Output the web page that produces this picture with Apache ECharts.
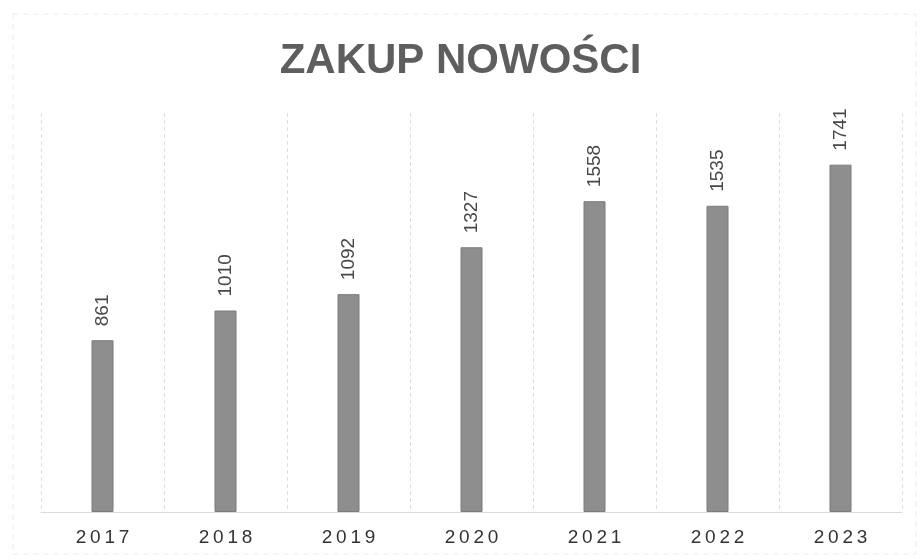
<!DOCTYPE html>
<html><head><meta charset="utf-8">
<script src="https://cdn.jsdelivr.net/npm/echarts@6/dist/echarts.min.js"></script>
<style>html,body{margin:0;padding:0;background:#fff}#c{width:921px;height:560px}</style>
</head><body><div id="c"></div>
<script>
const categories = ['2017','2018','2019','2020','2021','2022','2023'];
const values = [861, 1010, 1092, 1327, 1558, 1535, 1741];
const titleText = 'ZAKUP NOWOŚCI';

const chart = echarts.init(document.getElementById('c'));
chart.setOption({
  animation: false,
  backgroundColor: '#fff',
  title: {
    text: titleText, left: 'center', top: 35,
    textStyle: { fontFamily: 'Liberation Sans, Arial', fontSize: 42, fontWeight: 'bold', color: '#5e5e5e' }
  },
  graphic: [{
    type: 'rect', shape: { x: 13, y: 14, width: 903, height: 540 },
    style: { fill: 'none', stroke: '#ececec', lineWidth: 1, lineDash: [6, 4] }, silent: true
  }],
  grid: { left: 41, right: 19, top: 113, bottom: 48, containLabel: false },
  xAxis: {
    type: 'category', data: categories,
    axisLine: { show: true, lineStyle: { color: '#dcdcdc' } },
    axisTick: { show: false },
    splitLine: { show: true, lineStyle: { color: '#dedede', type: [4, 3] } },
    axisLabel: { color: '#333', fontSize: 19, fontFamily: 'Liberation Sans, Arial', margin: 16,
      formatter: v => v.split('').join('\u2009') }
  },
  yAxis: {
    type: 'value', min: 0, max: 2000, show: false, splitLine: { show: false }
  },
  series: [{
    type: 'bar', data: values, barWidth: 22,
    itemStyle: { color: '#8e8e8e', borderColor: '#7a7a7a', borderWidth: 1 },
    label: {
      show: true, position: 'top', rotate: 90, distance: 14, align: 'left', verticalAlign: 'middle',
      color: '#484848', fontSize: 19, fontFamily: 'Liberation Sans, Arial'
    }
  }]
});
</script></body></html>
